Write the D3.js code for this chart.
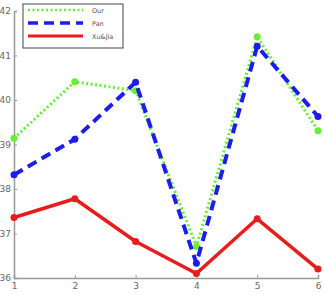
<!DOCTYPE html>
<html>
<head>
<meta charset="utf-8">
<script src="https://cdn.jsdelivr.net/npm/d3@7"></script>
<style>
body{margin:0;background:#fff}
svg{display:block}
</style>
</head>
<body>
<div id="chart"></div>
<script>
var width = 325
var height = 295
var xs = [1, 2, 3, 4, 5, 6]
var our = [39.14, 40.41, 40.21, 36.71, 41.42, 39.31]
var pan = [38.32, 39.12, 40.4, 36.33, 41.21, 39.63]
var xuJia = [37.36, 37.78, 36.82, 36.1, 37.33, 36.2]
var names = ["Our", "Pan", "Xu&Jia"]
var yTicks = [36, 37, 38, 39, 40, 41, 42]

var series = [
	{name: names[0], vals: our, color: "#66ee33", width: 3, dash: "2,2.5"},
	{name: names[1], vals: pan, color: "#1c1cee", width: 4, dash: "10,6"},
	{name: names[2], vals: xuJia, color: "#e81c1c", width: 3.5, dash: null}
]

var svg = d3.select("#chart").append("svg")
	.attr("width", width)
	.attr("height", height)

var x = d3.scaleLinear().domain([1, 6]).range([14, 318])
var y = d3.scaleLinear().domain([36, 42]).range([278, 11])

svg.append("g")
	.attr("transform", "translate(0,278)")
	.call(d3.axisBottom(x).tickValues(xs).tickSize(-3).tickPadding(5).tickFormat(d3.format("d")))
svg.append("g")
	.attr("transform", "translate(14,0)")
	.call(d3.axisLeft(y).tickValues(yTicks).tickSize(-3).tickPadding(3).tickFormat(d3.format("d")))
svg.selectAll(".domain").attr("stroke", "#999").attr("stroke-width", 1.5)
svg.selectAll(".tick line").attr("stroke", "#999")
svg.selectAll(".tick text")
	.attr("fill", "#666")
	.style("font-family", "DejaVu Sans, sans-serif")
	.style("font-size", "9px")

var line = d3.line()
	.x(function(d, i){return x(xs[i])})
	.y(function(d){return y(d)})

series.forEach(function(s){
	svg.append("path")
		.attr("d", line(s.vals))
		.attr("fill", "none")
		.attr("stroke", s.color)
		.attr("stroke-width", s.width)
		.attr("stroke-dasharray", s.dash)
		.attr("stroke-linejoin", "round")
	svg.selectAll(null)
		.data(s.vals).enter()
		.append("circle")
		  .attr("cx", function(d, i){return x(xs[i])})
		  .attr("cy", y)
		  .attr("r", 3.5)
		  .attr("fill", s.color)
})

// legend
var lg = svg.append("g")
lg.append("rect")
	.attr("x", 23).attr("y", 4)
	.attr("width", 100).attr("height", 44)
	.attr("fill", "#fff")
	.attr("stroke", "#444")
	.attr("stroke-width", 1)
series.forEach(function(s, i){
	var ly = 10 + i * 13
	lg.append("line")
		.attr("x1", 28).attr("x2", 83)
		.attr("y1", ly).attr("y2", ly)
		.attr("stroke", s.color)
		.attr("stroke-width", s.width - 0.5)
		.attr("stroke-dasharray", s.dash)
	lg.append("text")
		.attr("x", 92).attr("y", ly + 2.5)
		.attr("fill", "#555")
		.style("font-family", "DejaVu Sans, sans-serif")
		.style("font-size", "6.5px")
		.text(s.name)
})
</script>
</body>
</html>
